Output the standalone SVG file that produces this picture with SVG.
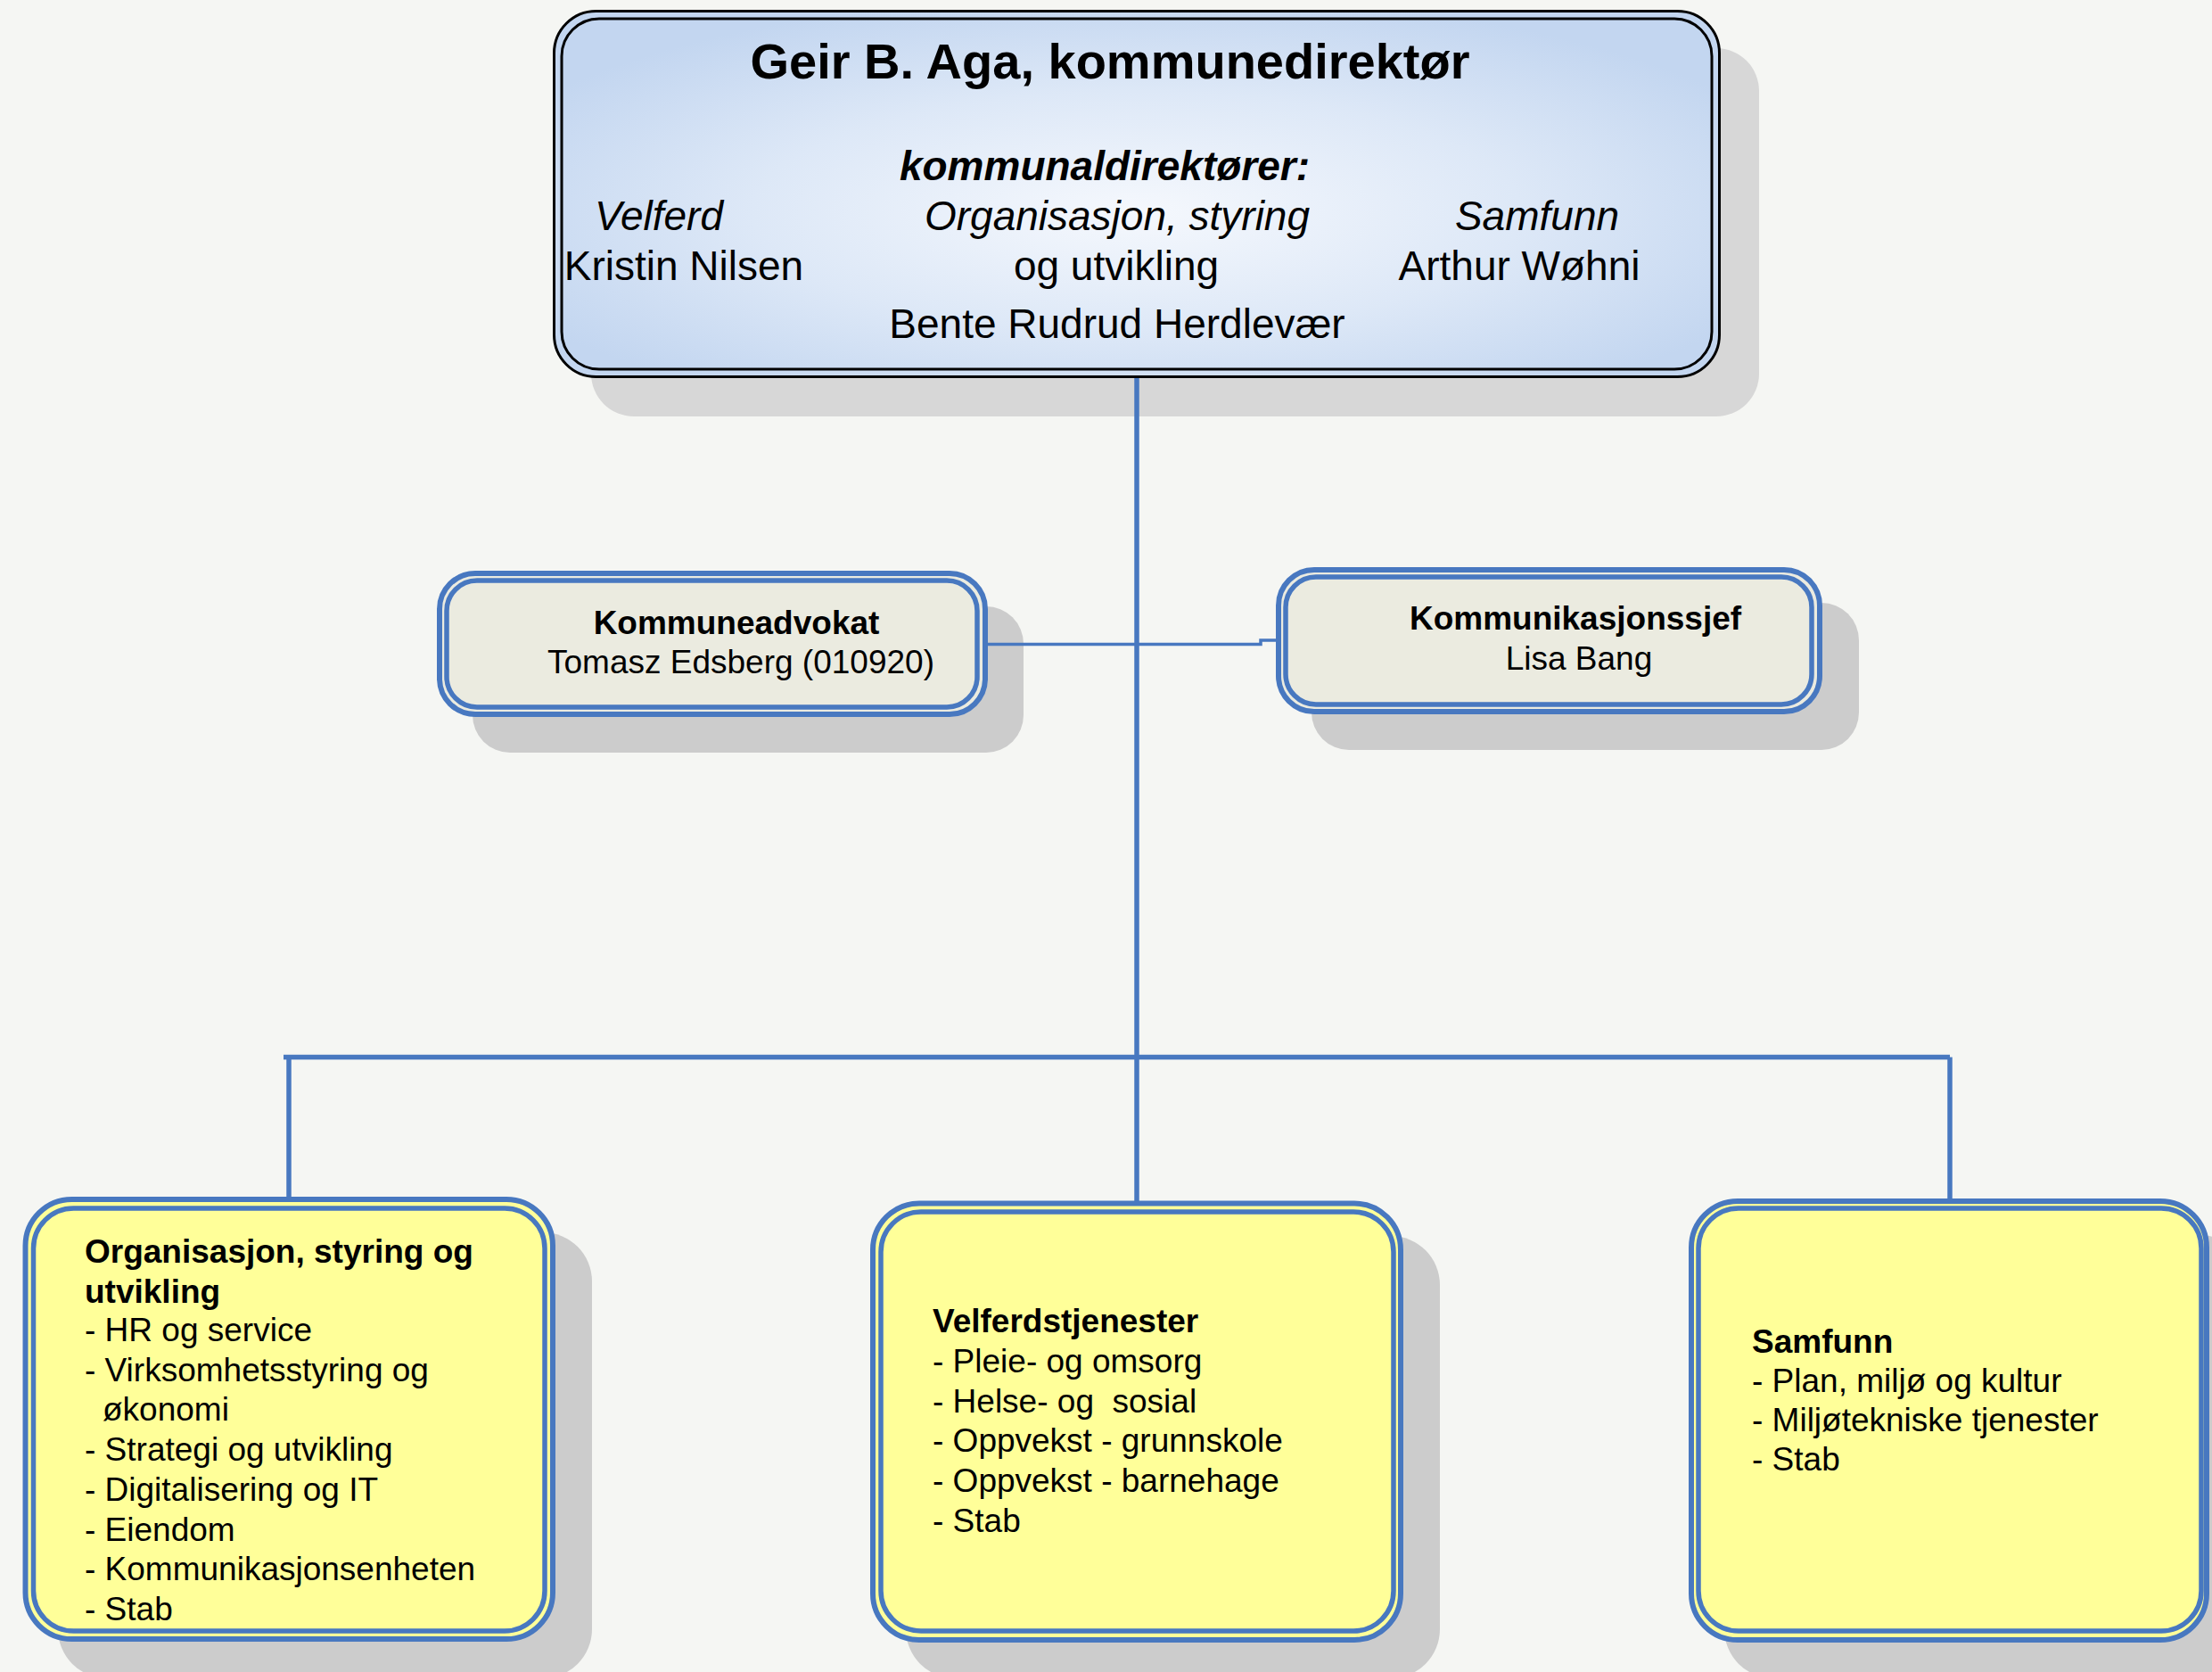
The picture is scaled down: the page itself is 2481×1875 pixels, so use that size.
<svg xmlns="http://www.w3.org/2000/svg" width="2481" height="1875" viewBox="0 0 2481 1875">
  <defs>
    <radialGradient id="topGrad" cx="50%" cy="55%" r="60%">
      <stop offset="0" stop-color="#f5f8fd"/>
      <stop offset="0.55" stop-color="#dde8f7"/>
      <stop offset="1" stop-color="#c3d6f0"/>
    </radialGradient>
  </defs>
  <style>
    text { font-family: "Liberation Sans", Arial, sans-serif; fill: #000; }
    .shadowA { fill: #d7d7d7; }
    .shadowB { fill: #cccccc; }
    .topOuter { fill: url(#topGrad); stroke: #000; stroke-width: 3; }
    .topInner { fill: none; stroke: #000; stroke-width: 3; }
    .midOuter { fill: #ebebe0; stroke: #4878c0; stroke-width: 6; }
    .midInner { fill: #ebebe0; stroke: #4878c0; stroke-width: 5.5; }
    .botOuter { fill: #ffff99; stroke: #4878c0; stroke-width: 6; }
    .botInner { fill: #ffff99; stroke: #4878c0; stroke-width: 5.5; }
    .conn { fill: none; stroke: #4878c0; stroke-width: 5.5; stroke-linejoin: miter; }
    .connThin { fill: none; stroke: #4878c0; stroke-width: 3.5; }
    .t56 { font-size: 56px; font-weight: bold; text-anchor: middle; }
    .t46 { font-size: 46px; text-anchor: middle; }
    .t46i { font-size: 46px; font-style: italic; text-anchor: middle; }
    .t46bi { font-size: 46px; font-style: italic; font-weight: bold; text-anchor: middle; }
    .t37c { font-size: 37px; text-anchor: middle; }
    .t37bc { font-size: 37px; font-weight: bold; text-anchor: middle; }
    .t37 { font-size: 37px; }
    .t37b { font-size: 37px; font-weight: bold; }
  </style>
  <rect width="2481" height="1875" fill="#f5f6f3"/>

  <g id="shadows">
    <rect class="shadowA" x="663" y="54" width="1310" height="413" rx="48"/>
    <rect class="shadowB" x="530" y="680" width="618" height="164" rx="42"/>
    <rect class="shadowB" x="1471" y="676" width="614" height="165" rx="42"/>
    <rect class="shadowB" x="65" y="1382" width="599" height="500" rx="55"/>
    <rect class="shadowB" x="1016" y="1386" width="599" height="496" rx="55"/>
    <rect class="shadowB" x="1934" y="1384" width="585" height="498" rx="55"/>
  </g>

  <g id="connectors">
    <path class="conn" d="M1275 424 V1347"/>
    <path class="conn" d="M318 1185.5 H2187"/>
    <path class="conn" d="M324 1185.5 V1342"/>
    <path class="conn" d="M2187 1185.5 V1344"/>
    <path class="connThin" d="M1106 722.5 H1414 V718 H1432"/>
  </g>

  <g id="node-kommunedirektor">
    <rect class="topOuter" x="621.5" y="12.5" width="1307" height="410" rx="47"/>
    <rect class="topInner" x="630" y="21" width="1290" height="393" rx="42"/>
    <text class="t56" x="1245" y="88">Geir B. Aga, kommunedirektør</text>
    <text class="t46bi" x="1239" y="202">kommunaldirektører:</text>
    <text class="t46i" x="739" y="258">Velferd</text>
    <text class="t46i" x="1253" y="258">Organisasjon, styring</text>
    <text class="t46i" x="1724" y="258">Samfunn</text>
    <text class="t46" x="767" y="314">Kristin Nilsen</text>
    <text class="t46" x="1252" y="314">og utvikling</text>
    <text class="t46" x="1704" y="314">Arthur Wøhni</text>
    <text class="t46" x="1253" y="379">Bente Rudrud Herdlevær</text>
  </g>

  <g id="node-kommuneadvokat">
    <rect class="midOuter" x="493" y="643" width="612" height="158" rx="40"/>
    <rect class="midInner" x="501" y="651" width="595" height="142" rx="34"/>
    <text class="t37bc" x="826" y="711">Kommuneadvokat</text>
    <text class="t37c" x="831" y="755">Tomasz Edsberg (010920)</text>
  </g>

  <g id="node-kommunikasjonssjef">
    <rect class="midOuter" x="1434" y="639" width="607" height="159" rx="40"/>
    <rect class="midInner" x="1442" y="647" width="590" height="143" rx="34"/>
    <text class="t37bc" x="1767" y="706">Kommunikasjonssjef</text>
    <text class="t37c" x="1771" y="751">Lisa Bang</text>
  </g>

  <g id="node-organisasjon">
    <rect class="botOuter" x="28.5" y="1345" width="591.5" height="493" rx="52"/>
    <rect class="botInner" x="37.5" y="1355" width="573.5" height="474" rx="45"/>
    <text class="t37b" x="95" y="1416">Organisasjon, styring og</text>
    <text class="t37b" x="95" y="1461">utvikling</text>
    <text class="t37" x="95" y="1504">- HR og service</text>
    <text class="t37" x="95" y="1549">- Virksomhetsstyring og</text>
    <text class="t37" x="115" y="1593">økonomi</text>
    <text class="t37" x="95" y="1638">- Strategi og utvikling</text>
    <text class="t37" x="95" y="1683">- Digitalisering og IT</text>
    <text class="t37" x="95" y="1728">- Eiendom</text>
    <text class="t37" x="95" y="1772">- Kommunikasjonsenheten</text>
    <text class="t37" x="95" y="1817">- Stab</text>
  </g>

  <g id="node-velferdstjenester">
    <rect class="botOuter" x="979" y="1349.5" width="592" height="489.5" rx="52"/>
    <rect class="botInner" x="988" y="1359" width="575" height="470" rx="45"/>
    <text class="t37b" x="1046" y="1494">Velferdstjenester</text>
    <text class="t37" x="1046" y="1539">- Pleie- og omsorg</text>
    <text class="t37" x="1046" y="1584" xml:space="preserve">- Helse- og  sosial</text>
    <text class="t37" x="1046" y="1628">- Oppvekst - grunnskole</text>
    <text class="t37" x="1046" y="1673">- Oppvekst - barnehage</text>
    <text class="t37" x="1046" y="1718">- Stab</text>
  </g>

  <g id="node-samfunn">
    <rect class="botOuter" x="1897" y="1347" width="578" height="492" rx="52"/>
    <rect class="botInner" x="1905" y="1355" width="564" height="474" rx="45"/>
    <text class="t37b" x="1965" y="1517">Samfunn</text>
    <text class="t37" x="1965" y="1561">- Plan, miljø og kultur</text>
    <text class="t37" x="1965" y="1605">- Miljøtekniske tjenester</text>
    <text class="t37" x="1965" y="1649">- Stab</text>
  </g>
</svg>
